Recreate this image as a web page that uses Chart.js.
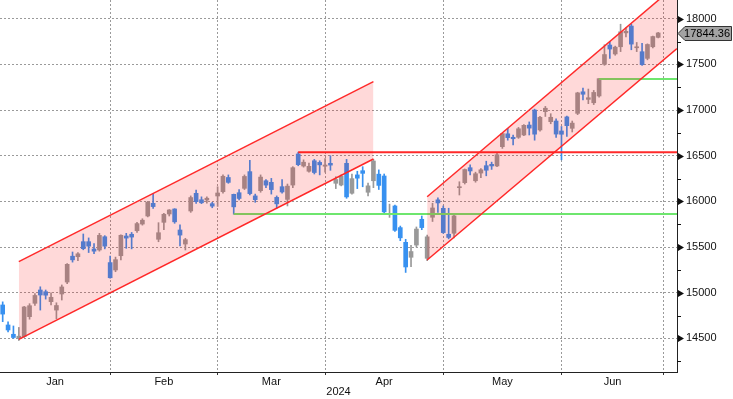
<!DOCTYPE html>
<html lang="en">
<head>
<meta charset="UTF-8">
<title>Index candles H1 2024</title>
<script src="https://cdn.jsdelivr.net/npm/chart.js@4.4.8/dist/chart.umd.js"></script>
<style>
  html, body { margin: 0; padding: 0; background: #fff; }
  canvas { display: block; }
</style>
</head>
<body>
<canvas id="priceChart" width="733" height="399"></canvas>
<script>
// daily candles, one per trading day (index 0 = 2 Jan)
const open = [
  14866, 14647, 14545, 14501, 14519, 14738, 14884, 15030, 15011, 14902,
  14810, 14986, 15117, 15400, 15394, 15559, 15559, 15479, 15468, 15613,
  15330, 15249, 15405, 15621, 15640, 15679, 15752, 15840, 15979, 15585,
  15771, 15862, 15917, 15687, 15533, 15895, 16088, 16018, 16015, 15975,
  16059, 16106, 16262, 16077, 16095, 16143, 16326, 16060, 16117, 16226,
  16209, 16044, 16161, 16022, 16179, 16519, 16387, 16330, 16445, 16427,
  16385, 16417, 16198, 16179, 16417, 16089, 16290, 16336, 16100, 16226,
  16298, 16278, 15855, 15950, 15713, 15552, 15388, 15522, 15804, 15377,
  15826, 16017, 15924, 15640, 15651, 16150, 16205, 16369, 16226, 16310,
  16391, 16406, 16388, 16599, 16740, 16702, 16702, 16727, 16836, 17000,
  16782, 16982, 16873, 16880, 16771, 16925, 16800, 16964, 17200, 17117,
  17080, 17154, 17501, 17712, 17614, 17693, 17845, 17920, 17682, 17639,
  17566, 17693, 17796
];
const high = [
  14900, 14680, 14636, 14620, 14850, 14880, 14990, 15065, 15030, 15000,
  14890, 15085, 15320, 15446, 15440, 15643, 15600, 15537, 15650, 15625,
  15400, 15390, 15635, 15650, 15660, 15770, 15810, 16000, 16088, 15767,
  15870, 15910, 15920, 15742, 15596, 16060, 16125, 16050, 16050, 15990,
  16160, 16290, 16290, 16080, 16130, 16290, 16450, 16080, 16290, 16240,
  16252, 16060, 16240, 16190, 16380, 16539, 16455, 16420, 16460, 16445,
  16470, 16500, 16270, 16290, 16460, 16300, 16330, 16380, 16200, 16462,
  16345, 16300, 15970, 15960, 15730, 15585, 15520, 15720, 15840, 15630,
  15980, 16040, 15950, 15925, 15860, 16215, 16355, 16400, 16320, 16360,
  16440, 16430, 16525, 16745, 16800, 16727, 16810, 16840, 16870, 17010,
  16930, 17040, 16960, 16905, 16820, 16935, 16880, 17195, 17240, 17230,
  17215, 17345, 17715, 17750, 17700, 17940, 17900, 17940, 17740, 17730,
  17725, 17810, 17850
];
const low = [
  14683, 14570, 14500, 14477, 14510, 14710, 14860, 14810, 14930, 14866,
  14715, 14920, 15100, 15335, 15350, 15470, 15440, 15427, 15455, 15480,
  15160, 15230, 15360, 15486, 15480, 15660, 15740, 15830, 15924, 15558,
  15690, 15840, 15760, 15512, 15468, 15880, 15979, 15975, 15980, 15930,
  15945, 16090, 16198, 15860, 16015, 16130, 16070, 15990, 16100, 16150,
  16080, 15925, 16090, 15950, 16150, 16390, 16375, 16320, 16300, 16290,
  16320, 16340, 16140, 16170, 16034, 16080, 16140, 16160, 16060, 16150,
  16130, 15860, 15825, 15670, 15570, 15222, 15285, 15500, 15690, 15350,
  15780, 15880, 15650, 15590, 15600, 16070, 16190, 16290, 16210, 16260,
  16280, 16350, 16380, 16580, 16670, 16617, 16690, 16720, 16727, 16670,
  16770, 16930, 16850, 16700, 16455, 16710, 16760, 16950, 17110, 17070,
  17060, 17140, 17490, 17566, 17600, 17640, 17800, 17660, 17640, 17490,
  17550, 17680, 17790
];
const close = [
  14766, 14592, 14510, 14524, 14844, 14858, 14970, 14975, 14973, 14950,
  14860, 15063, 15311, 15360, 15426, 15482, 15510, 15455, 15628, 15510,
  15164, 15362, 15629, 15598, 15609, 15757, 15794, 15991, 15943, 15657,
  15859, 15906, 15776, 15631, 15581, 16042, 15997, 15985, 16035, 15948,
  16092, 16275, 16208, 15940, 16032, 16273, 16085, 16019, 16266, 16178,
  16129, 15973, 16103, 16167, 16369, 16402, 16429, 16384, 16316, 16400,
  16398, 16397, 16240, 16277, 16049, 16249, 16254, 16307, 16170, 16442,
  16175, 15885, 15865, 15683, 15601, 15282, 15451, 15697, 15713, 15612,
  15928, 15983, 15658, 15605, 15841, 16156, 16349, 16333, 16303, 16346,
  16341, 16388, 16511, 16742, 16698, 16686, 16795, 16833, 16802, 16736,
  16921, 17020, 16921, 16737, 16735, 16829, 16857, 17188, 17173, 17135,
  17193, 17344, 17608, 17668, 17689, 17857, 17862, 17722, 17689, 17497,
  17718, 17805, 17844.36
];

// x axis: trading-day index; month ticks sit on the last trading day of each month
const monthLabels = ['Jan', 'Feb', 'Mar', 'Apr', 'May', 'Jun'];
const monthEnds = [20, 40, 60, 82, 104, 123];
const yearLabel = '2024';
const yTicks = [14500, 15000, 15500, 16000, 16500, 17000, 17500, 18000];

// trend channels: [dayIndex, price] end points
const channel1Upper = [[3, 15340], [69, 17312]];
const channel1Lower = [[3, 14490], [69, 16464]];
const channel2Upper = [[79, 16051], [125.5, 18376]];
const channel2Lower = [[79, 15358], [125.5, 17674]];
// horizontal levels: [startIndex, price]
const resistance = [55, 16537];
const supports = [[43, 15862], [111, 17340]];

const X_MIN = -0.5, X_MAX = 125.5;
const Y_MIN = 14132, Y_MAX = 18205;

const UP = '#999999';
const DOWN = '#3891f0';
const RED = '#ff2a2a';
const GREEN = '#6ee66e';
const FONT = 'Liberation Sans';

const candleColors = open.map((o, i) => close[i] >= o ? UP : DOWN);
const wicks = open.map((o, i) => ({ x: i, y: [low[i], high[i]] }));
const bodies = open.map((o, i) => ({ x: i, y: [o, close[i]] }));

const toPts = arr => arr.map(p => ({ x: p[0], y: p[1] }));
const flat = p => [{ x: p[0], y: p[1] }, { x: X_MAX, y: p[1] }];

// month label sits halfway between month boundaries
const monthCenters = monthEnds.map((e, i) => ((i === 0 ? X_MIN : monthEnds[i - 1]) + e) / 2);
const xLabelMap = {};
monthCenters.forEach((c, i) => { xLabelMap[c] = monthLabels[i]; });
const xTickVals = monthEnds.concat(monthCenters).sort((a, b) => a - b);

const lineBase = { type: 'line', pointRadius: 0, tension: 0, order: 1 };

// right axis: arrow marks on major ticks, short marks between, last price tag
const axisMarks = {
  id: 'axisMarks',
  afterDraw(chart) {
    const { ctx, chartArea } = chart;
    const ys = chart.scales.y;
    const x0 = chartArea.right;
    ctx.save();
    ctx.fillStyle = '#111';
    ctx.strokeStyle = '#111';
    ctx.lineWidth = 1;
    yTicks.forEach(v => {
      const py = Math.round(ys.getPixelForValue(v));
      ctx.beginPath();
      ctx.moveTo(x0 + 1, py - 3);
      ctx.lineTo(x0 + 7, py + 0.5);
      ctx.lineTo(x0 + 1, py + 4);
      ctx.closePath();
      ctx.fill();
      const m = ys.getPixelForValue(v - 250);
      if (m < chartArea.bottom) {
        const my = Math.round(m) + 0.5;
        ctx.beginPath();
        ctx.moveTo(x0, my);
        ctx.lineTo(x0 + 4, my);
        ctx.stroke();
      }
    });
    const mTop = ys.getPixelForValue(yTicks[yTicks.length - 1] + 250);
    if (mTop > chartArea.top) {
      ctx.beginPath();
      ctx.moveTo(x0, Math.round(mTop) + 0.5);
      ctx.lineTo(x0 + 4, Math.round(mTop) + 0.5);
      ctx.stroke();
    }

    const last = close[close.length - 1];
    const py = Math.round(ys.getPixelForValue(last)) + 0.5;
    ctx.beginPath();
    ctx.moveTo(x0 + 1, py);
    ctx.lineTo(x0 + 8, py - 7);
    ctx.lineTo(731.5, py - 7);
    ctx.lineTo(731.5, py + 7);
    ctx.lineTo(x0 + 8, py + 7);
    ctx.closePath();
    ctx.fillStyle = '#a3a3a3';
    ctx.fill();
    ctx.strokeStyle = '#333';
    ctx.stroke();
    ctx.fillStyle = '#000';
    ctx.font = '11px "' + FONT + '"';
    ctx.textBaseline = 'middle';
    ctx.textAlign = 'right';
    ctx.fillText(last.toFixed(2), 730, py);
    ctx.restore();
  }
};

Chart.defaults.font.family = FONT;
Chart.defaults.font.size = 11;
Chart.defaults.color = '#111';

new Chart(document.getElementById('priceChart'), {
  type: 'bar',
  data: {
    datasets: [
      Object.assign({}, lineBase, { data: toPts(channel1Upper), borderColor: RED, borderWidth: 1.5,
        fill: '+1', backgroundColor: 'rgba(255,0,0,0.15)' }),
      Object.assign({}, lineBase, { data: toPts(channel1Lower), borderColor: RED, borderWidth: 1.5, fill: false }),
      Object.assign({}, lineBase, { data: toPts(channel2Upper), borderColor: RED, borderWidth: 1.5,
        fill: '+1', backgroundColor: 'rgba(255,0,0,0.15)' }),
      Object.assign({}, lineBase, { data: toPts(channel2Lower), borderColor: RED, borderWidth: 1.5, fill: false }),
      Object.assign({}, lineBase, { data: flat(resistance), borderColor: RED, borderWidth: 2, fill: false }),
      Object.assign({}, lineBase, { data: flat(supports[0]), borderColor: GREEN, borderWidth: 2, fill: false }),
      Object.assign({}, lineBase, { data: flat(supports[1]), borderColor: GREEN, borderWidth: 2, fill: false }),
      {
        data: wicks, backgroundColor: candleColors, barThickness: 1,
        grouped: false, borderWidth: 0, borderSkipped: false, order: 2
      },
      {
        data: bodies, backgroundColor: candleColors, barThickness: 4, minBarLength: 1,
        grouped: false, borderWidth: 0, borderSkipped: false, order: 2
      }
    ]
  },
  options: {
    responsive: false,
    animation: false,
    events: [],
    layout: { padding: 0 },
    plugins: { legend: { display: false }, tooltip: { enabled: false } },
    scales: {
      x: {
        type: 'linear',
        min: X_MIN,
        max: X_MAX,
        offset: false,
        afterBuildTicks: s => { s.ticks = xTickVals.map(v => ({ value: v })); },
        afterFit: s => { s.height = 27; s.paddingLeft = 0; s.paddingRight = 0; },
        ticks: {
          autoSkip: false, maxRotation: 0, padding: 0, color: '#111',
          callback: v => xLabelMap[v] || ''
        },
        grid: {
          offset: false,
          color: c => monthEnds.includes(c.tick && c.tick.value) ? '#9a9a9a' : 'transparent',
          tickColor: c => monthEnds.includes(c.tick && c.tick.value) ? '#333' : 'transparent',
          tickLength: 3,
          tickBorderDash: [],
          lineWidth: 1
        },
        border: { display: true, color: '#222', width: 1, dash: [2, 2] },
        title: { display: true, text: yearLabel, padding: { top: 0, bottom: 0 }, color: '#111' }
      },
      y: {
        type: 'linear',
        position: 'right',
        min: Y_MIN,
        max: Y_MAX,
        afterBuildTicks: s => { s.ticks = yTicks.map(v => ({ value: v })); },
        afterFit: s => { s.width = 56; s.paddingTop = 0; s.paddingBottom = 0; },
        ticks: { padding: 9, color: '#111', callback: v => String(v) },
        grid: { color: '#9a9a9a', drawTicks: false, lineWidth: 1 },
        border: { display: true, color: '#222', width: 1, dash: [2, 2] }
      }
    }
  },
  plugins: [axisMarks]
});
</script>
</body>
</html>
